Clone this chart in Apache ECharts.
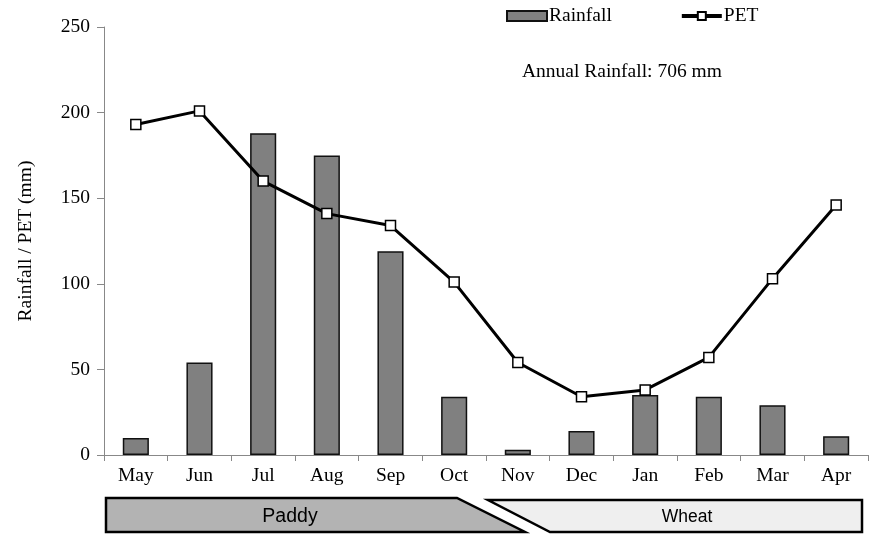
<!DOCTYPE html>
<html><head><meta charset="utf-8">
<script src="https://cdn.jsdelivr.net/npm/echarts@6/dist/echarts.min.js"></script>
<style>html,body{margin:0;padding:0;background:#fff}#c{width:869px;height:537px}</style>
</head><body><div id="c"></div>
<script>
const months = ['May','Jun','Jul','Aug','Sep','Oct','Nov','Dec','Jan','Feb','Mar','Apr'];
const rainfall = [10,54,188,175,119,34,3,14,35,34,29,11];
const pet = [193,201,160,141,134,101,54,34,38,57,103,146];
const yTicks = [0,50,100,150,200,250];
const seasons = ['Paddy','Wheat'];
const annualNote = 'Annual Rainfall: 706 mm';

const serif = '"Liberation Serif","DejaVu Serif",serif';
const sans = '"Liberation Sans",Arial,sans-serif';
const fs = 19.5;
const chart = echarts.init(document.getElementById('c'), null, {renderer:'canvas'});
chart.setOption({
  animation:false,
  backgroundColor:'#fff',
  grid:{left:104,right:1,top:27,bottom:82,containLabel:false},
  legend:{
    top:1,left:501,itemGap:68,itemWidth:40,itemHeight:10,
    textStyle:{fontFamily:serif,fontSize:fs,color:'#000',padding:[0,0,0,-3]},
    data:[
      {name:'Rainfall',icon:'rect'},
      {name:'PET',lineStyle:{width:4,color:'#000'}}
    ]
  },
  xAxis:{
    type:'category',data:months,boundaryGap:true,
    axisLine:{lineStyle:{color:'#888',width:1}},
    axisTick:{show:true,alignWithLabel:false,length:6,lineStyle:{color:'#888'}},
    axisLabel:{fontFamily:serif,fontSize:fs,color:'#000',margin:11}
  },
  yAxis:{
    type:'value',min:0,max:250,interval:50,
    name:'Rainfall / PET (mm)',nameLocation:'middle',nameGap:68,nameRotate:90,
    nameTextStyle:{fontFamily:serif,fontSize:fs,color:'#000'},
    axisLine:{show:true,lineStyle:{color:'#888'}},
    axisTick:{show:true,length:7,lineStyle:{color:'#888'}},
    splitLine:{show:false},
    axisLabel:{fontFamily:serif,fontSize:fs,color:'#000',margin:14,
      formatter:v=>yTicks.includes(v)?String(v):''}
  },
  series:[
    {name:'Rainfall',type:'bar',data:rainfall,barWidth:'41%',
     itemStyle:{color:'#808080',borderColor:'#111',borderWidth:1.5}},
    {name:'PET',type:'line',data:pet,symbol:'rect',symbolSize:10,
     lineStyle:{color:'#000',width:3},
     itemStyle:{color:'#fff',borderColor:'#000',borderWidth:1.5},z:5}
  ],
  graphic:[
    {type:'text',left:522,top:62,style:{text:annualNote,font:fs+'px '+serif,fill:'#000'}},
    {type:'polygon',shape:{points:[[106,498],[457,498],[525,532],[106,532]]},
     style:{fill:'#b3b3b3',stroke:'#000',lineWidth:2.5}},
    {type:'text',x:290,y:517,style:{text:seasons[0],font:'19.5px '+sans,fill:'#000',align:'center',verticalAlign:'middle'}},
    {type:'polygon',shape:{points:[[488,500],[862,500],[862,532],[550,532]]},
     style:{fill:'#efefef',stroke:'#000',lineWidth:2.5}},
    {type:'text',x:687,y:517,style:{text:seasons[1],font:'17.5px '+sans,fill:'#000',align:'center',verticalAlign:'middle'}}
  ]
});
</script></body></html>
